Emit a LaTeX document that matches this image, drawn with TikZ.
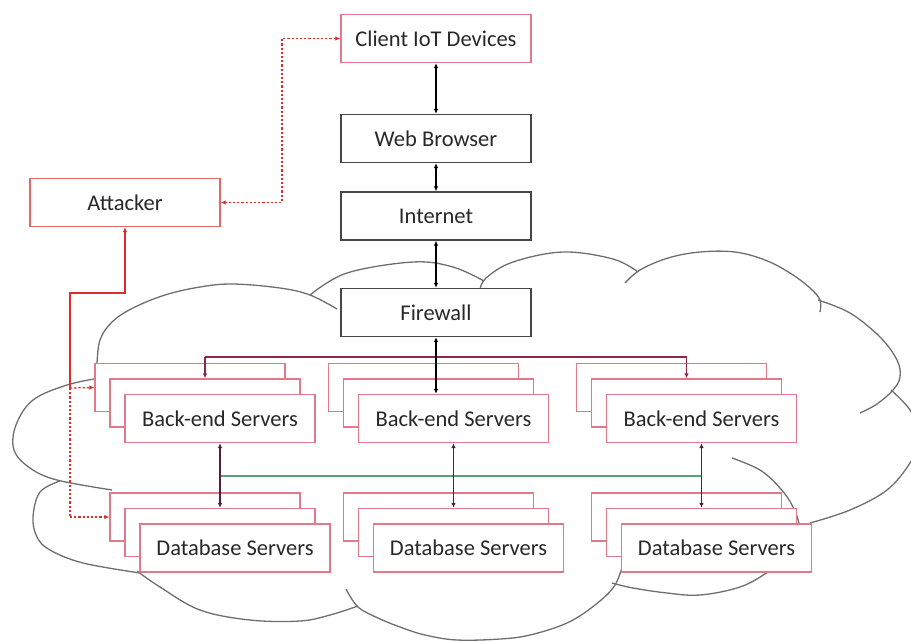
\documentclass[tikz,border=0pt]{standalone}
\usepackage{fontspec}
\setmainfont{Carlito}
\usetikzlibrary{arrows.meta}
\definecolor{boxpink}{RGB}{226,120,136}
\definecolor{atkbox}{RGB}{226,105,105}
\definecolor{boxgray}{RGB}{70,70,70}
\definecolor{cloudgray}{RGB}{110,110,110}
\definecolor{atkred}{RGB}{222,45,45}
\definecolor{busred}{RGB}{150,35,75}
\definecolor{linkdark}{RGB}{85,30,60}
\definecolor{busgreen}{RGB}{85,160,125}
\definecolor{txt}{RGB}{40,40,40}

\begin{document}
\begin{tikzpicture}[x=1pt,y=-1pt,
  >={Latex[length=5pt,width=4.5pt]},
  box/.style={draw=#1, line width=1.3pt, fill=white, minimum width=190pt,
    minimum height=48pt, inner sep=0pt, text=txt,
    font=\fontsize{22.5}{26}\selectfont},
  box/.default=boxpink,
  cloudline/.style={draw=cloudgray, line width=1.3pt},
  link/.style={line width=1.2pt, draw=black},
  atksolid/.style={line width=1.3pt, draw=atkred},
  atkdot/.style={line width=1.3pt, draw=atkred, dash pattern=on 2.2pt off 2pt},
  buslink/.style={line width=1.4pt, draw=busred},
  greenbus/.style={line width=1.3pt, draw=busgreen},
  dblink/.style={line width=1.3pt, draw=linkdark}
]
\useasboundingbox (0,0) rectangle (911,641);
\clip (0,0) rectangle (911,641);

% ---- cloud outline, drawn bump by bump ----
\draw[cloudline] plot[smooth,tension=0.6] coordinates
  {(97,364) (100,340) (112,322) (133,308) (165,295) (200,287) (233,284) (280,288) (310,295) (337,309)};
\draw[cloudline] plot[smooth,tension=0.6] coordinates
  {(310,295) (347,273) (413,262) (453,267) (484,281)};
\draw[cloudline] plot[smooth,tension=0.6] coordinates
  {(480,290) (486,278) (513,262) (563,252) (613,259) (638,272)};
\draw[cloudline] plot[smooth,tension=0.6] coordinates
  {(625,283) (640,270) (668,258) (700,252) (735,252) (765,260) (790,273) (810,288) (820,300) (820,312)};
\draw[cloudline] plot[smooth,tension=0.6] coordinates
  {(818,300) (850,313) (880,337) (897,360) (900,377) (893,390) (877,404) (860,413)};
\draw[cloudline] plot[smooth,tension=0.6] coordinates
  {(891,390) (910,410) (922,437) (910,463) (887,490) (850,510) (810,523)};
\draw[cloudline] plot[smooth,tension=0.6] coordinates
  {(732,458) (760,470) (780,488) (793,507) (800,530) (795,552) (768,572) (740,587) (700,595) (667,593) (633,588) (612,583)};
\draw[cloudline] plot[smooth,tension=0.6] coordinates
  {(624,560) (615,585) (595,605) (567,623) (530,635) (500,639) (457,640) (425,635) (400,627) (378,618) (358,607) (346,589)};
\draw[cloudline] plot[smooth,tension=0.6] coordinates
  {(137,571) (160,587) (200,610) (250,620) (300,621) (330,615) (358,606)};
\draw[cloudline] plot[smooth,tension=0.6] coordinates
  {(60,481) (40,492) (33,517) (37,537) (50,550) (83,563) (140,573)};
\draw[cloudline] plot[smooth,tension=0.6] coordinates
  {(100,378) (67,385) (33,400) (16,425) (14,450) (30,468) (57,480) (112,490)};

% ---- upper chain ----
\node[box] (cl) at (436,38.5) {Client IoT Devices};
\node[box=boxgray] (wb) at (436,138.5) {Web Browser};
\node[box=boxgray] (in) at (436,216) {Internet};
\node[box=boxgray] (fw) at (436,312.5) {Firewall};
\node[box=atkbox] (att) at (125,202.5) {Attacker};

% ---- server stacks: C back, B middle, A front ----
\foreach \i/\cx in {1/220,2/453.5,3/701.5} {
  \node[box] (beC\i) at (\cx-30,387.5) {};
  \node[box] (beB\i) at (\cx-15,403) {};
  \node[box] (beA\i) at (\cx,418.5) {Back-end Servers};
  \node[box] (dbC\i) at (\cx-15,517) {};
  \node[box] (dbB\i) at (\cx,532.5) {};
  \node[box] (dbA\i) at (\cx+15,548) {Database Servers};
}

% ---- client side links ----
\draw[link,<->] (cl.south) -- (wb.north);
\draw[link,<->] (wb.south) -- (in.north);
\draw[link,<->] (in.south) -- (fw.north);

% ---- firewall to back-end servers ----
\coordinate (bus) at (0,357);
\draw[buslink] (beB1.north |- bus) -- (beB3.north |- bus);
\draw[buslink,->] (beB1.north |- bus) -- (beB1.north);
\draw[buslink,->] (beB3.north |- bus) -- (beB3.north);
\draw[link,<->] (fw.south) -- (fw.south |- beA2.north);

% ---- back-end to database servers ----
\coordinate (gbus) at (0,476);
\draw[greenbus] (beA1.south |- gbus) -- (beA3.south |- gbus);
\foreach \i in {1,2,3} {
  \draw[dblink,<->] (beA\i.south) -- (dbB\i.north);
}

% ---- attacker paths ----
\coordinate (elbow) at (282,0);
\draw[atkdot,<->] (cl.west) -| (elbow |- att.east) -- (att.east);
\coordinate (j1) at (70,388);
\coordinate (j2) at (70,517);
\draw[atksolid,<-] (att.south) -- (125,293) -| (j1);
\draw[atkdot,->] (j1) -- (beC1.west);
\draw[atkdot] (j1) -- (j2);
\draw[atkdot,->] (j2) -- (dbC1.west);
\end{tikzpicture}
\end{document}
